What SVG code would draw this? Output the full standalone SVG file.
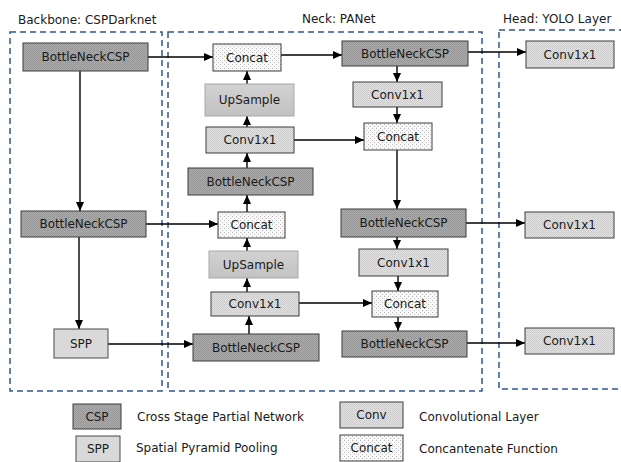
<svg xmlns="http://www.w3.org/2000/svg" width="621" height="462" viewBox="0 0 621 462">
  <style>
    text { font-family: "DejaVu Sans", Verdana, sans-serif; font-size: 12px; fill: #1a1a1a; }
    .lbl { text-anchor: middle; dominant-baseline: central; }
    .stage { fill: none; stroke: #2f5596; stroke-width: 1.5; stroke-dasharray: 6 4; }
    .csp { fill: url(#dotsCsp); stroke: #3c3c3c; stroke-width: 1; }
    .conv { fill: url(#dotsConv); stroke: #3c3c3c; stroke-width: 1; }
    .cat { fill: url(#dotsCat); stroke: #3c3c3c; stroke-width: 1; }
    .ups { fill: url(#upsFill); stroke: #a8a8a8; stroke-width: 1; }
    .spp { fill: #d9d9d9; stroke: #4a4a4a; stroke-width: 1; }
    .wire { fill: none; stroke: #000; stroke-width: 1.4; marker-end: url(#head); }
  </style>
  <defs>
    <pattern id="dotsCsp" patternUnits="userSpaceOnUse" width="2" height="2">
      <rect width="2" height="2" fill="#adadad"/>
      <rect width="1" height="1" fill="#929292"/>
      <rect x="1" y="1" width="1" height="1" fill="#989898"/>
    </pattern>
    <pattern id="dotsConv" patternUnits="userSpaceOnUse" width="2" height="2">
      <rect width="2" height="2" fill="#e2e2e2"/>
      <rect width="1" height="1" fill="#c8c8c8"/>
      <rect x="1" y="1" width="1" height="1" fill="#cfcfcf"/>
    </pattern>
    <pattern id="dotsCat" patternUnits="userSpaceOnUse" width="4" height="4">
      <rect width="4" height="4" fill="#f8f8f8"/>
      <rect width="1" height="1" fill="#b8b8b8"/>
      <rect x="2" y="2" width="1" height="1" fill="#c2c2c2"/>
    </pattern>
    <linearGradient id="upsFill" x1="0" y1="0" x2="0" y2="1">
      <stop offset="0" stop-color="#d2d2d2"/>
      <stop offset="1" stop-color="#c2c2c2"/>
    </linearGradient>
    <marker id="head" markerUnits="userSpaceOnUse" markerWidth="10" markerHeight="10" refX="9" refY="4" orient="auto">
      <path d="M0,0 L9,4 L0,8 Z" fill="#000"/>
    </marker>
  </defs>

  <!-- stage frames -->
  <g id="stages">
    <rect class="stage" x="10" y="32" width="152" height="359"/>
    <rect class="stage" x="168" y="32" width="314" height="359"/>
    <rect class="stage" x="499" y="30" width="140" height="359"/>
    <text x="18" y="24">Backbone: CSPDarknet</text>
    <text x="302" y="23">Neck: PANet</text>
    <text x="503" y="23">Head: YOLO Layer</text>
  </g>

  <!-- connectors -->
  <g id="connectors">
    <line class="wire" x1="148" y1="57" x2="213" y2="57"/>
    <line class="wire" x1="80" y1="71" x2="80" y2="211"/>
    <line class="wire" x1="146" y1="224" x2="218" y2="224"/>
    <line class="wire" x1="79" y1="237" x2="79" y2="329"/>
    <line class="wire" x1="108" y1="344" x2="193" y2="344"/>
    <line class="wire" x1="249" y1="334" x2="249" y2="316"/>
    <line class="wire" x1="247" y1="292" x2="247" y2="278"/>
    <line class="wire" x1="247" y1="251" x2="247" y2="238"/>
    <line class="wire" x1="247" y1="212" x2="247" y2="195"/>
    <line class="wire" x1="247" y1="168" x2="247" y2="153"/>
    <line class="wire" x1="247" y1="127" x2="247" y2="116"/>
    <line class="wire" x1="247" y1="84" x2="247" y2="71"/>
    <line class="wire" x1="281" y1="55" x2="342" y2="55"/>
    <line class="wire" x1="468" y1="52" x2="526" y2="52"/>
    <line class="wire" x1="397" y1="65" x2="397" y2="82"/>
    <line class="wire" x1="397" y1="107" x2="397" y2="123"/>
    <line class="wire" x1="294" y1="140" x2="364" y2="140"/>
    <line class="wire" x1="397" y1="150" x2="397" y2="209"/>
    <line class="wire" x1="466" y1="223" x2="525" y2="223"/>
    <line class="wire" x1="397" y1="237" x2="397" y2="249"/>
    <line class="wire" x1="398" y1="276" x2="398" y2="291"/>
    <line class="wire" x1="299" y1="303" x2="372" y2="303"/>
    <line class="wire" x1="398" y1="317" x2="398" y2="331"/>
    <line class="wire" x1="467" y1="343" x2="525" y2="343"/>
  </g>

  <!-- backbone -->
  <g id="bb-csp1"><rect class="csp" x="23" y="43" width="125" height="28"/><text class="lbl" x="85.5" y="57" textLength="88">BottleNeckCSP</text></g>
  <g id="bb-csp2"><rect class="csp" x="21" y="211" width="125" height="26"/><text class="lbl" x="83.5" y="224" textLength="88">BottleNeckCSP</text></g>
  <g id="bb-spp"><rect class="spp" x="54" y="329" width="54" height="29"/><text class="lbl" x="81" y="343.5">SPP</text></g>

  <!-- neck, top-down path -->
  <g id="nk-cat1"><rect class="cat" x="213" y="44" width="68" height="27"/><text class="lbl" x="247" y="57.5">Concat</text></g>
  <g id="nk-up1"><rect class="ups" x="205" y="84" width="89" height="32"/><text class="lbl" x="249.5" y="100">UpSample</text></g>
  <g id="nk-conv1"><rect class="conv" x="206" y="127" width="88" height="26"/><text class="lbl" x="250" y="140">Conv1x1</text></g>
  <g id="nk-csp1"><rect class="csp" x="188" y="168" width="125" height="27"/><text class="lbl" x="250.5" y="181.5" textLength="88">BottleNeckCSP</text></g>
  <g id="nk-cat2"><rect class="cat" x="218" y="212" width="67" height="26"/><text class="lbl" x="251.5" y="225">Concat</text></g>
  <g id="nk-up2"><rect class="ups" x="209" y="251" width="89" height="27"/><text class="lbl" x="253.5" y="264.5">UpSample</text></g>
  <g id="nk-conv2"><rect class="conv" x="211" y="292" width="88" height="24"/><text class="lbl" x="255" y="304">Conv1x1</text></g>
  <g id="nk-csp2"><rect class="csp" x="193" y="334" width="126" height="27"/><text class="lbl" x="256" y="347.5" textLength="88">BottleNeckCSP</text></g>

  <!-- neck, bottom-up path -->
  <g id="nk-csp3"><rect class="csp" x="342" y="41" width="126" height="25"/><text class="lbl" x="405" y="53.5" textLength="88">BottleNeckCSP</text></g>
  <g id="nk-conv3"><rect class="conv" x="353" y="82" width="89" height="25"/><text class="lbl" x="397.5" y="94.5">Conv1x1</text></g>
  <g id="nk-cat3"><rect class="cat" x="364" y="123" width="68" height="27"/><text class="lbl" x="398" y="136.5">Concat</text></g>
  <g id="nk-csp4"><rect class="csp" x="341" y="209" width="125" height="28"/><text class="lbl" x="403.5" y="223" textLength="88">BottleNeckCSP</text></g>
  <g id="nk-conv4"><rect class="conv" x="359" y="249" width="89" height="27"/><text class="lbl" x="403.5" y="262.5">Conv1x1</text></g>
  <g id="nk-cat4"><rect class="cat" x="372" y="291" width="66" height="26"/><text class="lbl" x="405" y="304">Concat</text></g>
  <g id="nk-csp5"><rect class="csp" x="342" y="331" width="125" height="26"/><text class="lbl" x="404.5" y="344" textLength="88">BottleNeckCSP</text></g>

  <!-- head -->
  <g id="hd-conv1"><rect class="conv" x="526" y="41" width="88" height="27"/><text class="lbl" x="570" y="54.5">Conv1x1</text></g>
  <g id="hd-conv2"><rect class="conv" x="525" y="212" width="89" height="26"/><text class="lbl" x="569.5" y="225">Conv1x1</text></g>
  <g id="hd-conv3"><rect class="conv" x="525" y="328" width="89" height="26"/><text class="lbl" x="569.5" y="341">Conv1x1</text></g>

  <!-- legend -->
  <g id="legend">
    <rect class="csp" x="73" y="404" width="48" height="25"/><text class="lbl" x="97" y="416.5">CSP</text>
    <text x="137" y="421">Cross Stage Partial Network</text>
    <rect class="spp" x="76" y="436" width="44" height="26"/><text class="lbl" x="98" y="449">SPP</text>
    <text x="136" y="452">Spatial Pyramid Pooling</text>
    <rect class="conv" x="340" y="402" width="63" height="26"/><text class="lbl" x="371.5" y="415">Conv</text>
    <text x="419" y="421">Convolutional Layer</text>
    <rect class="cat" x="340" y="435" width="63" height="26"/><text class="lbl" x="371.5" y="448">Concat</text>
    <text x="419" y="453">Concantenate Function</text>
  </g>
</svg>
